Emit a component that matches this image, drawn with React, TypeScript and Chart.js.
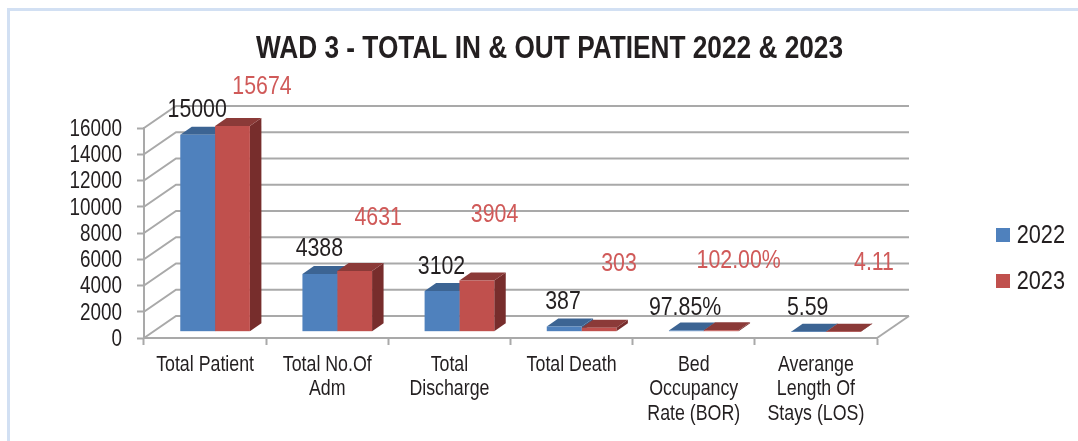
import React, { useEffect, useRef } from "react";
import { Chart, registerables } from "chart.js";

Chart.register(...registerables);

const categories = [
  "Total Patient",
  ["Total No.Of", "Adm"],
  ["Total", "Discharge"],
  "Total Death",
  ["Bed", "Occupancy", "Rate (BOR)"],
  ["Averange", "Length Of", "Stays (LOS)"],
];
const values2022 = [15000, 4388, 3102, 387, 97.85, 5.59];
const values2023 = [15674, 4631, 3904, 303, 102, 4.11];
const valueLabels2022 = ["15000", "4388", "3102", "387", "97.85%", "5.59"];
const valueLabels2023 = ["15674", "4631", "3904", "303", "102.00%", "4.11"];

// Where the reference's loose data labels sit, relative to their bars.
const labelShift2022 = [[0, -26], [0, -26.5], [0, -26], [-0.7, -26.1], [-0.8, -24.4], [-0.3, -25.6]];
const labelShift2023 = [[30, -41], [24, -54.4], [18.2, -67], [20.5, -65.7], [18, -71.4], [31.2, -70.6]];

const FONT = '"Liberation Sans", Arial, sans-serif';
const NARROW = 0.82; // the reference's type is a narrow grotesque
const LEGEND_SIZE = 26.5;
const INK = "#231f20";
const GRID = "#a9a9a9";
const BLUE = "#4f81bd";
const RED = "#c0504d";
const LABEL_RED = "#d05a59";

const WALL_DX = 32;
const WALL_DY = -22;
const BAR_DX = 10;
const BAR_DY = -6.3;
const SIDE_DX = 11.5;
const SIDE_DY = -8;
const SHADES = [
  { top: "#3c6493", side: "#375d8a" },
  { top: "#8b3a38", side: "#772d2c" },
];

const poly = (ctx: CanvasRenderingContext2D, pts: number[][], fill: string) => {
  ctx.beginPath();
  pts.forEach(([x, y], i) => (i ? ctx.lineTo(x, y) : ctx.moveTo(x, y)));
  ctx.closePath();
  ctx.fillStyle = fill;
  ctx.fill();
};

const box3d = {
  id: "box3d",
  afterLayout(chart: any) {
    const lg = chart.legend;
    const p = lg.options.labels.padding;
    lg.left = 996 - p;
    lg.right = 1065;
    lg.top = 221.75 - p;
    lg.bottom = 330;
    const t = chart.titleBlock;
    t.left = 0;
    t.right = 1099;
  },
  beforeDatasetsDraw(chart: any) {
    const { ctx, chartArea, scales } = chart;
    const y = scales.y;
    ctx.save();
    ctx.strokeStyle = GRID;
    ctx.lineWidth = 2;
    y.ticks.forEach((t: any) => {
      const py = y.getPixelForValue(t.value);
      ctx.beginPath();
      ctx.moveTo(chartArea.left, py);
      ctx.lineTo(chartArea.left + WALL_DX, py + WALL_DY);
      ctx.lineTo(chartArea.right + WALL_DX, py + WALL_DY);
      ctx.stroke();
    });
    const floor = y.getPixelForValue(0);
    ctx.beginPath();
    ctx.moveTo(chartArea.right, floor);
    ctx.lineTo(chartArea.right + WALL_DX, floor + WALL_DY);
    ctx.stroke();
    ctx.restore();

    ctx.save();
    ctx.translate(BAR_DX, BAR_DY);
    chart.data.datasets.forEach((_: any, di: number) => {
      chart.getDatasetMeta(di).data.forEach((bar: any) => {
        const l = bar.x - bar.width / 2;
        const r = bar.x + bar.width / 2;
        poly(ctx, [[r, bar.y], [r + SIDE_DX, bar.y + SIDE_DY], [r + SIDE_DX, bar.base + SIDE_DY], [r, bar.base]], SHADES[di].side);
        poly(ctx, [[l, bar.y], [l + SIDE_DX, bar.y + SIDE_DY], [r + SIDE_DX, bar.y + SIDE_DY], [r, bar.y]], SHADES[di].top);
      });
    });
  },
  afterDatasetsDraw(chart: any) {
    const { ctx } = chart;
    ctx.restore();
    ctx.save();
    ctx.font = `26px ${FONT}`;
    ctx.textAlign = "center";
    ctx.textBaseline = "middle";
    const sets = [
      { texts: valueLabels2022, shift: labelShift2022, color: INK },
      { texts: valueLabels2023, shift: labelShift2023, color: LABEL_RED },
    ];
    sets.forEach((s, di) => {
      ctx.fillStyle = s.color;
      chart.getDatasetMeta(di).data.forEach((bar: any, i: number) => {
        ctx.fillText(s.texts[i], bar.x + 9.5 + s.shift[i][0], bar.y + BAR_DY + s.shift[i][1]);
      });
    });
    ctx.restore();
  },
};

export default function App() {
  const ref = useRef<HTMLCanvasElement>(null);
  useEffect(() => {
    const canvas = ref.current!;
    const ctx = canvas.getContext("2d")!;
    const fill = ctx.fillText.bind(ctx);
    ctx.fillText = (t: string, x: number, y: number) => {
      const nudge = ctx.font.includes(`${LEGEND_SIZE}px`) ? 0.5 : 1.5;
      fill(t, x, ctx.textBaseline === "middle" ? y + nudge : y, ctx.measureText(t).width * NARROW);
    };
    const chart = new Chart(canvas, {
      type: "bar",
      data: {
        labels: categories as any,
        datasets: [
          { label: "2022", data: values2022, backgroundColor: BLUE, borderWidth: 0 },
          { label: "2023", data: values2023, backgroundColor: RED, borderWidth: 0 },
        ],
      },
      plugins: [box3d],
      options: {
        animation: false,
        responsive: false,
        devicePixelRatio: 1,
        datasets: { bar: { categoryPercentage: 0.57, barPercentage: 1 } },
        layout: { autoPadding: false, padding: { left: 0, top: 0, bottom: 0, right: 201 } },
        plugins: {
          tooltip: { enabled: false },
          title: {
            display: true,
            text: "WAD 3 - TOTAL IN & OUT PATIENT 2022 & 2023",
            color: INK,
            font: { family: FONT, size: 32, weight: "bold", lineHeight: 1 },
            padding: { top: 32, bottom: 64 },
          },
          legend: {
            position: "chartArea",
            align: "start",
            labels: {
              color: INK,
              font: { family: FONT, size: LEGEND_SIZE, lineHeight: 1.2 },
              boxWidth: 14,
              boxHeight: 14,
              padding: 19.5,
              textAlign: "right",
            },
          },
        },
        scales: {
          x: {
            afterFit: (s: any) => {
              s.height = 103;
            },
            grid: { drawOnChartArea: false, drawTicks: true, tickLength: 7, tickColor: GRID, tickWidth: 2 },
            border: { color: GRID, width: 2 },
            ticks: {
              autoSkip: false,
              maxRotation: 0,
              minRotation: 0,
              padding: 6,
              color: INK,
              font: { family: FONT, size: 21.7, lineHeight: 1.13 },
            },
          },
          y: {
            min: 0,
            max: 16000,
            afterFit: (s: any) => {
              s.width = 144;
            },
            grid: { drawOnChartArea: false, drawTicks: true, tickLength: 7, tickColor: GRID, tickWidth: 2 },
            border: { color: GRID, width: 2 },
            ticks: {
              stepSize: 2000,
              autoSkip: false,
              padding: 15,
              color: INK,
              font: { family: FONT, size: 23 },
              callback: (v: any) => String(v),
            },
          },
        },
      },
    } as any);
    return () => chart.destroy();
  }, []);
  return (
    <div style={{ position: "absolute", left: 0, top: 0, width: 1078, height: 441, overflow: "hidden", background: "#fff" }}>
      <div
        style={{
          position: "absolute",
          left: 7,
          top: 8,
          right: 0,
          bottom: 0,
          borderTop: "3px solid #d2e0f3",
          borderLeft: "3px solid #d2e0f3",
        }}
      />
      <canvas ref={ref} width={1078} height={441} style={{ position: "absolute", left: 0, top: 0, display: "block" }} />
    </div>
  );
}
